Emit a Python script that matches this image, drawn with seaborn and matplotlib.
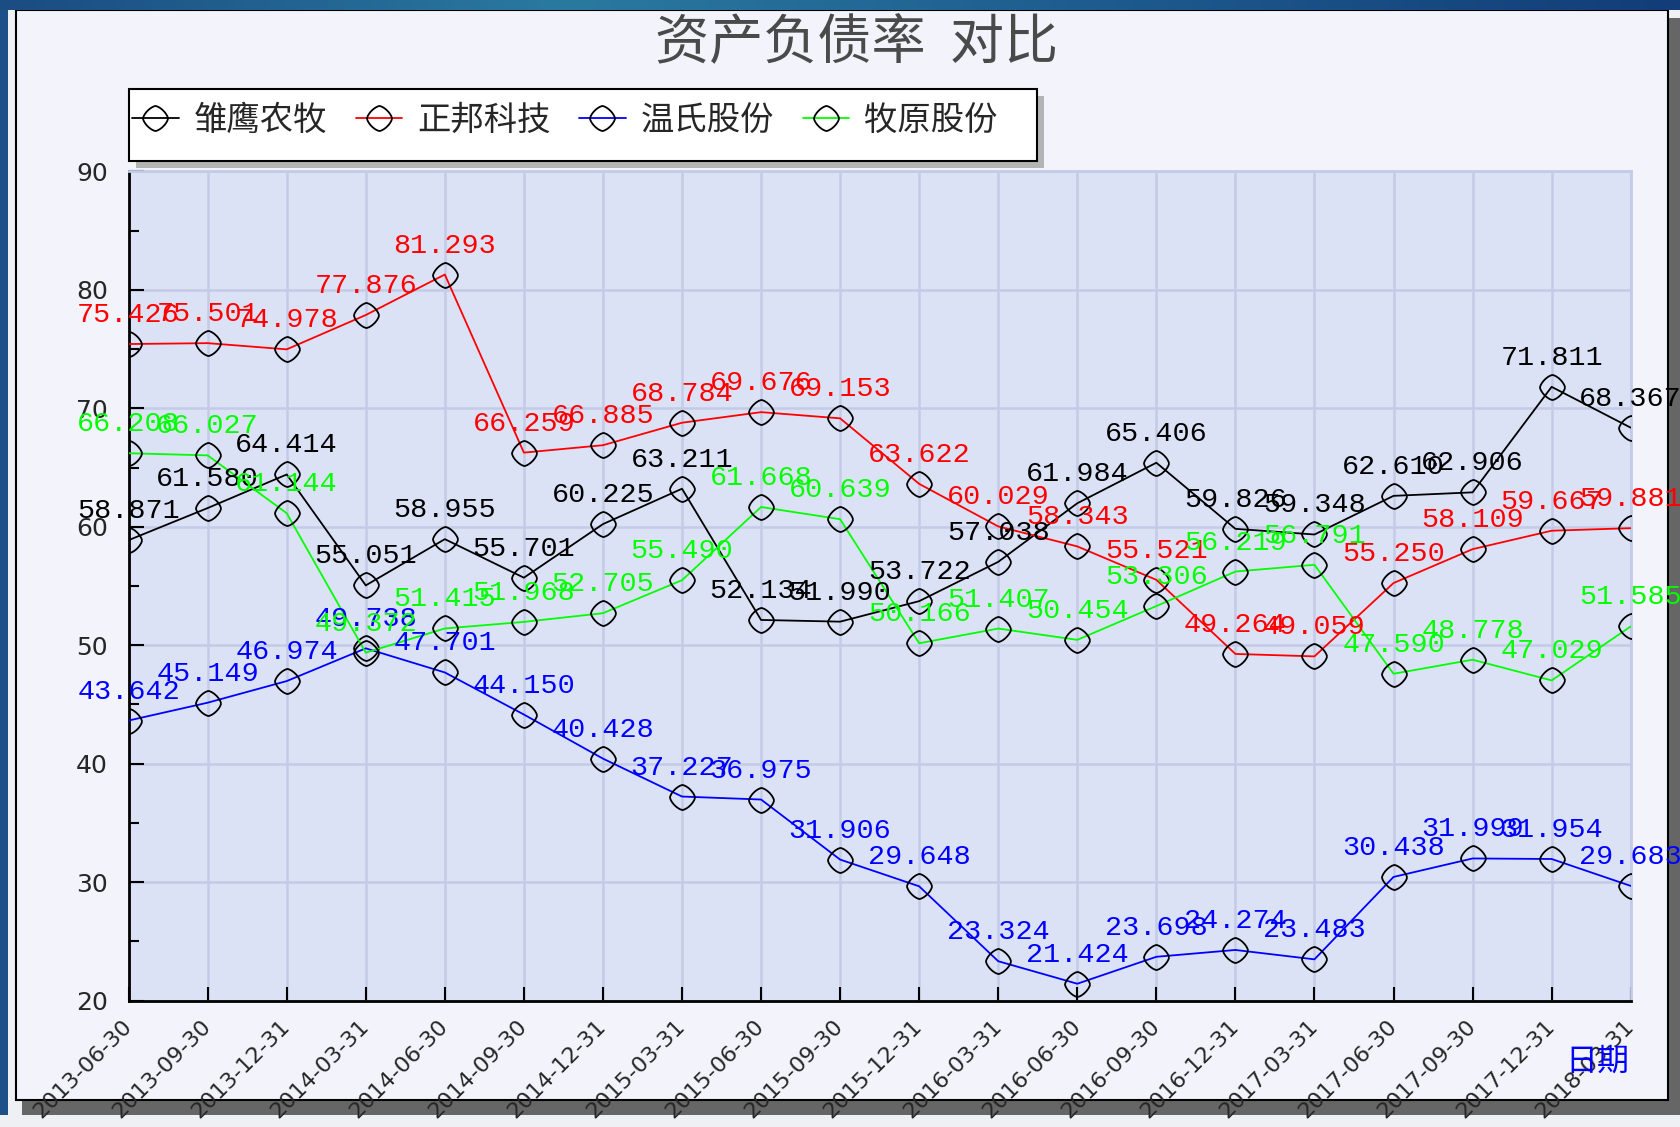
import numpy as np
import matplotlib
matplotlib.use('Agg')
import matplotlib.pyplot as plt
from matplotlib.patches import Rectangle
from matplotlib.lines import Line2D
from matplotlib.path import Path
from matplotlib.colors import LinearSegmentedColormap
import matplotlib.transforms as mtransforms
import seaborn as sns

# Data
dates = ['2013-06-30', '2013-09-30', '2013-12-31', '2014-03-31', '2014-06-30',
         '2014-09-30', '2014-12-31', '2015-03-31', '2015-06-30', '2015-09-30',
         '2015-12-31', '2016-03-31', '2016-06-30', '2016-09-30', '2016-12-31',
         '2017-03-31', '2017-06-30', '2017-09-30', '2017-12-31', '2018-03-31']
names = ['雏鹰农牧', '正邦科技', '温氏股份', '牧原股份']
colors = ['black', '#ff0000', '#0000ff', '#00ff00']
chuying = [58.871, 61.580, 64.414, 55.051, 58.955, 55.701, 60.225, 63.211, 52.134, 51.990,
           53.722, 57.038, 61.984, 65.406, 59.826, 59.348, 62.610, 62.906, 71.811, 68.367]
zhengbang = [75.426, 75.501, 74.978, 77.876, 81.293, 66.259, 66.885, 68.784, 69.676, 69.153,
             63.622, 60.029, 58.343, 55.521, 49.264, 49.059, 55.250, 58.109, 59.667, 59.881]
wenshi = [43.642, 45.149, 46.974, 49.738, 47.701, 44.150, 40.428, 37.227, 36.975, 31.906,
          29.648, 23.324, 21.424, 23.698, 24.274, 23.483, 30.438, 31.999, 31.954, 29.683]
muyuan = [66.208, 66.027, 61.144, 49.372, 51.415, 51.968, 52.705, 55.490, 61.668, 60.639,
          50.166, 51.407, 50.454, 53.306, 56.219, 56.791, 47.590, 48.778, 47.029, 51.585]
series = [chuying, zhengbang, wenshi, muyuan]

W, H = 1680, 1127
sns.set_style('white')
plt.rcParams['font.family'] = ['DejaVu Sans']
cjk = ['Noto Sans CJK SC', 'DejaVu Sans']

fig = plt.figure(figsize=(W / 100, H / 100), dpi=100)
fig.patch.set_facecolor('#eef0f4')

# frame: blue bands, panel with shadow
top = fig.add_axes([0, 1 - 10 / H, 1, 10 / H])
cm = LinearSegmentedColormap.from_list('band', ['#1b4c82', '#2a7aa0', '#1e5a8e', '#123d78'])
top.imshow(np.linspace(0, 1, 200)[None, :], aspect='auto', cmap=cm)
top.axis('off')
fig.add_artist(Rectangle((0, 12 / H), 8 / W, 1 - 12 / H, transform=fig.transFigure,
                         fc='#1d5088', ec='none', zorder=-3))
fig.add_artist(Rectangle((22 / W, 1 - 1115 / H), (W - 22) / W, (1115 - 18) / H,
                         transform=fig.transFigure, fc='#666666', ec='none', zorder=-3))
fig.add_artist(Rectangle((16 / W, 1 - 1100 / H), (1668 - 16) / W, (1100 - 10) / H,
                         transform=fig.transFigure, fc='#f2f3fb', ec='black', lw=1.5, zorder=-2))

ax = fig.add_axes([128.6 / W, 1 - 1000.6 / H, (1630.7 - 128.6) / W, (1000.6 - 171.4) / H])
ax.set_facecolor('#dce2f6')

# rounded diamond marker
t = np.linspace(0, 2 * np.pi, 41)
mx = np.sign(np.cos(t)) * np.abs(np.cos(t)) ** 1.35
my = np.sign(np.sin(t)) * np.abs(np.sin(t)) ** 1.35
diamond = Path(np.column_stack([mx, my]))

x = np.arange(len(dates))
for vals, c in zip(series, colors):
    sns.lineplot(x=x, y=vals, color=c, lw=1.3, marker=diamond, markersize=18,
                 mfc='none', mec='black', mew=1.3, ax=ax, legend=False, zorder=3)
    for xi, v in zip(x, vals):
        ax.annotate(f'{v:.3f}', (xi, v), xytext=(0, 29), textcoords='offset pixels',
                    ha='center', va='center', color=c, fontsize=20.5,
                    family='Liberation Mono', zorder=4, annotation_clip=False)

ax.set_xlim(0, len(dates) - 1)
ax.set_ylim(20, 90)
ax.set_xticks(x)
ax.set_xticklabels(dates, rotation=45, ha='right', va='center',
                   rotation_mode='anchor', fontsize=16)
shift = mtransforms.ScaledTranslation(-8 / 100, 0, fig.dpi_scale_trans)
for lab in ax.get_xticklabels():
    lab.set_transform(lab.get_transform() + shift)
ax.set_yticks(np.arange(20, 91, 10))
ax.set_yticks(np.arange(25, 90, 10), minor=True)
ax.tick_params(axis='y', which='major', direction='in', length=11, width=1.5,
               color='black', labelsize=18, pad=15, left=True)
ax.tick_params(axis='y', which='minor', direction='in', length=7, width=1.5,
               color='black', left=True)
ax.tick_params(axis='x', direction='in', length=10, width=1.5, color='black',
               pad=16, bottom=True)
ax.grid(True, which='major', color='#c4cbe6', lw=1.8)
ax.set_axisbelow(True)
for s in ['left', 'bottom']:
    ax.spines[s].set_color('black')
    ax.spines[s].set_linewidth(2)
for s in ['top', 'right']:
    ax.spines[s].set_color('#c4cbe6')
    ax.spines[s].set_linewidth(2)
ax.set_xlabel('')
ax.set_ylabel('')

# title and axis name
fig.text(857 / W, 1 - 43 / H, '资产负债率  对比', ha='center', va='center',
         fontsize=39, color='#4a4a4a', family=cjk)
fig.text(1629 / W, 1 - 1062 / H, '日期', ha='right', va='center', fontsize=23,
         color='#0000ff', family=cjk)

# legend box with shadow
lx0, ly0, lx1, ly1 = 128.6, 89, 1037, 160.7
fig.add_artist(Rectangle(((lx0 + 7) / W, 1 - (ly1 + 7) / H), (lx1 - lx0) / W, (ly1 - ly0) / H,
                         transform=fig.transFigure, fc='#b4b4b4', ec='none', zorder=1))
fig.add_artist(Rectangle((lx0 / W, 1 - ly1 / H), (lx1 - lx0) / W, (ly1 - ly0) / H,
                         transform=fig.transFigure, fc='white', ec='black', lw=1.5, zorder=2))
handles = [Line2D([], [], color=c, lw=1.3, marker=diamond, markersize=18, mfc='none',
                  mec='black', mew=1.3) for c in colors]
fig.legend(handles, names, loc='center left', bbox_to_anchor=(132 / W, 1 - 120 / H),
           ncol=4, frameon=False, handlelength=1.4, handletextpad=0.45,
           columnspacing=0.85, borderaxespad=0, borderpad=0,
           prop={'family': cjk, 'size': 24})

plt.savefig('out.png', dpi=100)
